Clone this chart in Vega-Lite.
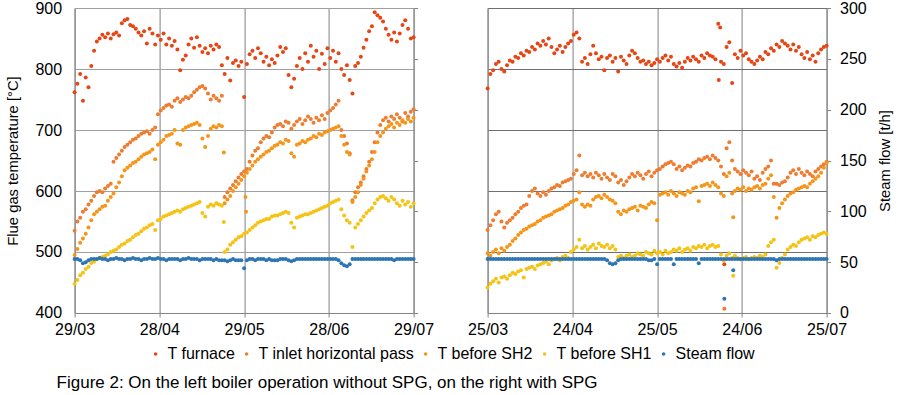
{
"$schema":"https://vega.github.io/schema/vega-lite/v6.json",
"autosize":{"type":"pad"},
"padding":{"left":5.6,"top":0,"right":4,"bottom":4},
"background":"white",
"bounds":"flush",
"spacing":74,
"config":{
"view":{"stroke":null},
"font":"Liberation Sans",
"axis":{"labelFont":"Liberation Sans","labelFontSize":16,"labelColor":"#000000","titleFont":"Liberation Sans","titleFontWeight":"normal","titleColor":"#000000","domainColor":"#858585","tickColor":"#858585","gridColor":"#8c8c8c","gridWidth":1,"domainWidth":1,"tickWidth":1},
"legend":{"orient":"none","legendX":73,"legendY":338,"direction":"horizontal","labelFont":"Liberation Sans","labelFontSize":16,"labelColor":"#000000","symbolType":"circle","symbolSize":13,"labelOffset":4,"columnPadding":3,"padding":0,"symbolStrokeWidth":0}
},
"title":{"text":"Figure 2: On the left boiler operation without SPG, on the right with SPG","orient":"bottom","anchor":"start","frame":"bounds","offset":13,"dx":51,"font":"Liberation Sans","fontSize":17,"fontWeight":"normal","color":"#000000"},
"datasets":{
"L":[
{"t":0,"a":762,"b":535,"c":495,"d":448,"e":53},
{"t":1,"a":776,"b":550,"c":505,"d":454,"e":53},
{"t":2,"a":792,"b":556,"c":515,"d":462,"e":52},
{"t":3,"a":748,"b":566,"c":522,"d":466,"e":49},
{"t":4,"a":786,"b":570,"c":530,"d":472,"e":50},
{"t":5,"a":770,"b":578,"c":540,"d":476,"e":52},
{"t":6,"a":805,"b":584,"c":552,"d":482,"e":53},
{"t":7,"a":830,"b":592,"c":562,"d":484,"e":53},
{"t":8,"a":845,"b":598,"c":566,"d":488,"e":53},
{"t":9,"a":850,"b":600,"c":570,"d":490,"e":54},
{"t":10,"a":856,"b":598,"c":574,"d":492,"e":53},
{"t":11,"a":852,"b":604,"c":576,"d":494,"e":53},
{"t":12,"a":858,"b":608,"c":584,"d":496,"e":52},
{"t":13,"a":850,"b":612,"c":590,"d":500,"e":53},
{"t":14,"a":857,"b":648,"c":596,"d":502,"e":53},
{"t":15,"a":860,"b":654,"c":606,"d":504,"e":54},
{"t":16,"a":855,"b":660,"c":614,"d":508,"e":53},
{"t":17,"a":875,"b":666,"c":624,"d":512,"e":53},
{"t":18,"a":880,"b":672,"c":634,"d":514,"e":52},
{"t":19,"a":882,"b":676,"c":638,"d":518,"e":53},
{"t":20,"a":872,"b":680,"c":642,"d":520,"e":53},
{"t":21,"a":870,"b":684,"c":646,"d":524,"e":54},
{"t":22,"a":866,"b":686,"c":648,"d":528,"e":53},
{"t":23,"a":860,"b":690,"c":652,"d":530,"e":53},
{"t":24,"a":855,"b":694,"c":656,"d":534,"e":52},
{"t":25,"a":862,"b":696,"c":660,"d":538,"e":53},
{"t":26,"a":842,"b":698,"c":662,"d":540,"e":53},
{"t":27,"a":866,"b":694,"c":664,"d":544,"e":54},
{"t":28,"a":858,"b":700,"c":668,"d":546,"e":53},
{"t":29,"a":840,"b":704,"c":652,"d":536,"e":53},
{"t":30,"a":855,"b":726,"c":676,"d":552,"e":54},
{"t":31,"a":848,"b":732,"c":680,"d":554,"e":53},
{"t":32,"a":858,"b":736,"c":684,"d":558,"e":53},
{"t":33,"a":840,"b":740,"c":690,"d":560,"e":52},
{"t":34,"a":850,"b":742,"c":692,"d":562,"e":53},
{"t":35,"a":838,"b":738,"c":694,"d":564,"e":53},
{"t":36,"a":846,"b":748,"c":700,"d":566,"e":53},
{"t":37,"a":832,"b":752,"c":678,"d":568,"e":53},
{"t":38,"a":798,"b":746,"c":676,"d":566,"e":52},
{"t":39,"a":815,"b":750,"c":700,"d":570,"e":53},
{"t":40,"a":822,"b":754,"c":704,"d":572,"e":53},
{"t":41,"a":840,"b":752,"c":706,"d":574,"e":54},
{"t":42,"a":850,"b":756,"c":708,"d":576,"e":53},
{"t":43,"a":835,"b":762,"c":710,"d":578,"e":53},
{"t":44,"a":852,"b":766,"c":712,"d":580,"e":53},
{"t":45,"a":838,"b":770,"c":708,"d":582,"e":52},
{"t":46,"a":828,"b":772,"c":686,"d":564,"e":53},
{"t":47,"a":834,"b":768,"c":672,"d":558,"e":53},
{"t":48,"a":826,"b":760,"c":690,"d":574,"e":53},
{"t":49,"a":838,"b":750,"c":702,"d":578,"e":53},
{"t":50,"a":832,"b":756,"c":706,"d":576,"e":52},
{"t":51,"a":840,"b":752,"c":704,"d":580,"e":53},
{"t":52,"a":836,"b":748,"c":708,"d":578,"e":52},
{"t":53,"a":806,"b":756,"c":706,"d":576,"e":52},
{"t":53.7,"c":663,"d":549},
{"t":54,"a":792,"b":590,"c":580,"d":500,"e":52},
{"t":55,"a":818,"b":598,"c":586,"d":504,"e":51},
{"t":56,"a":781,"b":604,"c":592,"d":512,"e":52},
{"t":57,"a":810,"b":610,"c":600,"d":516,"e":53},
{"t":58,"a":814,"b":616,"c":606,"d":520,"e":52},
{"t":59,"a":805,"b":622,"c":612,"d":524,"e":52},
{"t":60,"a":812,"b":628,"c":618,"d":526,"e":52},
{"t":61,"a":754,"b":632,"c":624,"d":530,"e":44},
{"t":61.5,"c":590},
{"t":61.7,"c":566},
{"t":62,"a":808,"b":636,"c":630,"d":532,"e":52},
{"t":63,"a":824,"b":648,"c":636,"d":536,"e":53},
{"t":64,"a":830,"b":658,"c":642,"d":540,"e":53},
{"t":65,"a":818,"b":666,"c":648,"d":544,"e":52},
{"t":66,"a":834,"b":670,"c":652,"d":548,"e":53},
{"t":67,"a":826,"b":680,"c":656,"d":550,"e":53},
{"t":68,"a":812,"b":686,"c":660,"d":552,"e":53},
{"t":69,"a":820,"b":690,"c":664,"d":554,"e":52},
{"t":70,"a":806,"b":688,"c":666,"d":554,"e":53},
{"t":71,"a":816,"b":696,"c":670,"d":558,"e":52},
{"t":72,"a":810,"b":704,"c":674,"d":560,"e":52},
{"t":73,"a":822,"b":708,"c":676,"d":560,"e":52},
{"t":74,"a":836,"b":710,"c":680,"d":562,"e":53},
{"t":75,"a":828,"b":706,"c":678,"d":564,"e":53},
{"t":76,"a":834,"b":714,"c":684,"d":566,"e":53},
{"t":77,"a":790,"b":712,"c":682,"d":564,"e":52},
{"t":78,"a":770,"b":702,"c":662,"d":548,"e":51},
{"t":79,"a":784,"b":708,"c":656,"d":540,"e":52},
{"t":80,"a":805,"b":714,"c":676,"d":556,"e":53},
{"t":81,"a":818,"b":718,"c":678,"d":558,"e":53},
{"t":82,"a":800,"b":710,"c":682,"d":560,"e":53},
{"t":83,"a":826,"b":716,"c":680,"d":562,"e":53},
{"t":84,"a":812,"b":722,"c":684,"d":562,"e":53},
{"t":85,"a":838,"b":718,"c":686,"d":564,"e":53},
{"t":86,"a":820,"b":712,"c":690,"d":566,"e":53},
{"t":87,"a":830,"b":720,"c":688,"d":568,"e":53},
{"t":88,"a":800,"b":716,"c":694,"d":570,"e":53},
{"t":89,"a":825,"b":724,"c":692,"d":572,"e":53},
{"t":90,"a":808,"b":718,"c":696,"d":574,"e":53},
{"t":91,"a":834,"b":728,"c":698,"d":576,"e":53},
{"t":92,"a":818,"b":732,"c":700,"d":580,"e":53},
{"t":93,"a":830,"b":736,"c":702,"d":582,"e":53},
{"t":94,"a":812,"b":742,"c":704,"d":584,"e":53},
{"t":95,"a":826,"b":748,"c":706,"d":586,"e":52},
{"t":96,"a":800,"b":700,"c":690,"d":570,"e":49},
{"t":97,"a":790,"b":690,"c":676,"d":560,"e":47},
{"t":98,"a":806,"b":678,"c":664,"d":552,"e":46},
{"t":99,"a":782,"b":662,"c":660,"d":548,"e":48},
{"t":100,"a":760,"b":585,"c":582,"d":508,"e":53},
{"t":101,"a":805,"b":598,"c":590,"d":540,"e":53},
{"t":102,"a":810,"b":606,"c":598,"d":546,"e":53},
{"t":103,"a":820,"b":614,"c":610,"d":552,"e":53},
{"t":104,"a":835,"b":624,"c":620,"d":558,"e":53},
{"t":105,"a":848,"b":636,"c":632,"d":564,"e":53},
{"t":106,"a":862,"b":648,"c":642,"d":568,"e":53},
{"t":107,"a":870,"b":664,"c":652,"d":572,"e":53},
{"t":108,"a":893,"b":680,"c":664,"d":580,"e":53},
{"t":109,"a":888,"b":696,"c":680,"d":586,"e":53},
{"t":110,"a":884,"b":708,"c":690,"d":590,"e":53},
{"t":111,"a":878,"b":716,"c":696,"d":592,"e":53},
{"t":112,"a":866,"b":720,"c":702,"d":588,"e":53},
{"t":113,"a":856,"b":714,"c":706,"d":584,"e":53},
{"t":114,"a":848,"b":722,"c":710,"d":590,"e":53},
{"t":115,"a":860,"b":718,"c":704,"d":586,"e":52},
{"t":116,"a":845,"b":726,"c":712,"d":580,"e":53},
{"t":117,"a":858,"b":720,"c":708,"d":576,"e":53},
{"t":118,"a":872,"b":714,"c":716,"d":584,"e":53},
{"t":119,"a":880,"b":728,"c":712,"d":578,"e":53},
{"t":120,"a":866,"b":722,"c":718,"d":582,"e":53},
{"t":121,"a":850,"b":730,"c":714,"d":574,"e":53},
{"t":122,"a":852,"b":734,"c":720,"d":580,"e":53}
],
"R":[
{"t":0,"a":768,"b":536,"c":498,"d":442,"e":53},
{"t":1,"a":792,"b":544,"c":494,"d":448,"e":53},
{"t":2,"a":798,"b":552,"c":500,"d":452,"e":53},
{"t":3,"a":808,"b":562,"c":504,"d":456,"e":53},
{"t":4,"a":812,"b":566,"c":498,"d":450,"e":53},
{"t":5,"a":800,"b":550,"c":506,"d":458,"e":53},
{"t":6,"a":796,"b":540,"c":502,"d":460,"e":53},
{"t":7,"a":806,"b":548,"c":508,"d":456,"e":53},
{"t":8,"a":814,"b":552,"c":512,"d":462,"e":53},
{"t":9,"a":812,"b":556,"c":518,"d":466,"e":53},
{"t":10,"a":820,"b":562,"c":522,"d":464,"e":53},
{"t":11,"a":818,"b":566,"c":528,"d":468,"e":53},
{"t":12,"a":826,"b":572,"c":532,"d":470,"e":53},
{"t":13,"a":822,"b":576,"c":536,"d":458,"e":53},
{"t":14,"a":830,"b":578,"c":538,"d":472,"e":53},
{"t":15,"a":828,"b":592,"c":542,"d":474,"e":53},
{"t":16,"a":836,"b":600,"c":544,"d":476,"e":53},
{"t":17,"a":832,"b":604,"c":546,"d":472,"e":53},
{"t":18,"a":842,"b":596,"c":550,"d":478,"e":53},
{"t":19,"a":838,"b":592,"c":552,"d":480,"e":53},
{"t":20,"a":846,"b":598,"c":556,"d":482,"e":53},
{"t":21,"a":840,"b":594,"c":558,"d":484,"e":53},
{"t":22,"a":850,"b":600,"c":560,"d":480,"e":53},
{"t":23,"a":836,"b":604,"c":562,"d":486,"e":53},
{"t":24,"a":826,"b":606,"c":566,"d":488,"e":53},
{"t":25,"a":832,"b":610,"c":568,"d":490,"e":53},
{"t":26,"a":838,"b":608,"c":570,"d":486,"e":53},
{"t":27,"a":828,"b":614,"c":572,"d":492,"e":53},
{"t":28,"a":836,"b":616,"c":576,"d":494,"e":53},
{"t":29,"a":842,"b":618,"c":578,"d":490,"e":53},
{"t":30,"a":846,"b":620,"c":582,"d":500,"e":53},
{"t":31,"a":856,"b":628,"c":584,"d":504,"e":53},
{"t":32,"a":860,"b":634,"c":586,"d":508,"e":53},
{"t":33,"a":850,"b":658,"c":598,"d":520,"e":53},
{"t":34,"a":812,"b":626,"c":578,"d":506,"e":53},
{"t":35,"a":818,"b":630,"c":574,"d":510,"e":53},
{"t":36,"a":808,"b":624,"c":578,"d":504,"e":53},
{"t":37,"a":824,"b":628,"c":576,"d":508,"e":53},
{"t":38,"a":838,"b":622,"c":586,"d":512,"e":53},
{"t":39,"a":826,"b":630,"c":590,"d":506,"e":53},
{"t":40,"a":816,"b":626,"c":592,"d":514,"e":53},
{"t":41,"a":820,"b":620,"c":588,"d":510,"e":53},
{"t":42,"a":798,"b":628,"c":594,"d":508,"e":53},
{"t":43,"a":818,"b":622,"c":590,"d":512,"e":52},
{"t":44,"a":822,"b":618,"c":586,"d":506,"e":49},
{"t":45,"a":812,"b":628,"c":584,"d":510,"e":48},
{"t":46,"a":818,"b":624,"c":580,"d":504,"e":49},
{"t":47,"a":796,"b":614,"c":566,"d":492,"e":52},
{"t":48,"a":820,"b":618,"c":562,"d":494,"e":53},
{"t":49,"a":814,"b":610,"c":568,"d":490,"e":53},
{"t":50,"a":808,"b":616,"c":566,"d":494,"e":53},
{"t":51,"a":822,"b":622,"c":570,"d":496,"e":53},
{"t":52,"a":830,"b":628,"c":572,"d":492,"e":53},
{"t":53,"a":826,"b":624,"c":574,"d":494,"e":53},
{"t":54,"a":818,"b":630,"c":568,"d":498,"e":53},
{"t":55,"a":812,"b":626,"c":576,"d":496,"e":53},
{"t":56,"a":814,"b":620,"c":574,"d":494,"e":53},
{"t":57,"a":808,"b":628,"c":572,"d":500,"e":53},
{"t":58,"a":812,"b":632,"c":578,"d":498,"e":52},
{"t":59,"a":806,"b":624,"c":582,"d":496,"e":52},
{"t":60,"a":810,"b":630,"c":580,"d":502,"e":53},
{"t":61,"a":816,"b":634,"c":552,"d":498,"e":48},
{"t":62,"a":812,"b":636,"c":594,"d":500,"e":53},
{"t":63,"a":818,"b":640,"c":596,"d":496,"e":53},
{"t":64,"a":822,"b":644,"c":598,"d":502,"e":53},
{"t":65,"a":814,"b":646,"c":594,"d":498,"e":53},
{"t":66,"a":820,"b":648,"c":600,"d":500,"e":53},
{"t":67,"a":808,"b":644,"c":596,"d":504,"e":48},
{"t":68,"a":804,"b":636,"c":592,"d":502,"e":53},
{"t":69,"a":810,"b":640,"c":598,"d":506,"e":53},
{"t":70,"a":802,"b":634,"c":596,"d":500,"e":53},
{"t":71,"a":812,"b":638,"c":594,"d":504,"e":53},
{"t":72,"a":818,"b":642,"c":600,"d":506,"e":53},
{"t":73,"a":814,"b":640,"c":598,"d":502,"e":53},
{"t":74,"a":820,"b":646,"c":604,"d":508,"e":53},
{"t":75,"a":816,"b":648,"c":606,"d":506,"e":53},
{"t":76,"a":812,"b":652,"c":583,"d":510,"e":49},
{"t":77,"a":822,"b":650,"c":608,"d":508,"e":53},
{"t":78,"a":818,"b":654,"c":610,"d":512,"e":53},
{"t":79,"a":826,"b":656,"c":612,"d":506,"e":53},
{"t":80,"a":822,"b":652,"c":608,"d":510,"e":53},
{"t":81,"a":820,"b":658,"c":614,"d":512,"e":53},
{"t":82,"a":816,"b":654,"c":610,"d":508,"e":53},
{"t":83,"a":874,"b":650,"c":606,"d":510,"e":53},
{"t":83.2,"a":782},
{"t":83.7,"a":868},
{"t":84,"a":812,"b":640,"c":596,"d":496,"e":53},
{"t":85,"a":808,"b":628,"c":592,"d":486,"e":53},
{"t":85.2,"a":480,"b":407,"e":14},
{"t":86,"a":836,"b":670,"c":624,"d":494,"e":53},
{"t":87,"a":844,"b":680,"c":630,"d":498,"e":53},
{"t":88,"a":777,"b":650,"c":596,"d":490,"e":53},
{"t":88.4,"c":557,"d":461,"e":42},
{"t":89,"a":824,"b":636,"c":600,"d":494,"e":53},
{"t":90,"a":818,"b":632,"c":604,"d":490,"e":53},
{"t":91,"a":830,"b":628,"c":602,"d":488,"e":53},
{"t":92,"a":822,"b":634,"c":606,"d":490,"e":53},
{"t":93,"a":826,"b":630,"c":600,"d":492,"e":53},
{"t":94,"a":816,"b":626,"c":604,"d":488,"e":53},
{"t":95,"a":812,"b":632,"c":602,"d":490,"e":53},
{"t":96,"a":808,"b":620,"c":606,"d":492,"e":53},
{"t":97,"a":814,"b":624,"c":608,"d":490,"e":53},
{"t":98,"a":820,"b":618,"c":604,"d":494,"e":53},
{"t":99,"a":816,"b":630,"c":610,"d":492,"e":53},
{"t":100,"a":828,"b":636,"c":612,"d":496,"e":53},
{"t":101,"a":824,"b":640,"c":620,"d":510,"e":53},
{"t":102,"a":834,"b":650,"c":626,"d":516,"e":53},
{"t":103,"a":830,"b":612,"c":590,"d":520,"e":53},
{"t":104,"a":840,"b":612,"c":556,"d":474,"e":52},
{"t":105,"a":836,"b":610,"c":572,"d":482,"e":53},
{"t":106,"a":846,"b":614,"c":580,"d":490,"e":53},
{"t":107,"a":842,"b":616,"c":586,"d":496,"e":53},
{"t":108,"a":838,"b":622,"c":592,"d":504,"e":53},
{"t":109,"a":832,"b":630,"c":596,"d":508,"e":53},
{"t":110,"a":840,"b":634,"c":598,"d":512,"e":53},
{"t":111,"a":830,"b":628,"c":602,"d":510,"e":53},
{"t":112,"a":836,"b":636,"c":604,"d":516,"e":53},
{"t":113,"a":824,"b":630,"c":606,"d":520,"e":53},
{"t":114,"a":818,"b":626,"c":608,"d":522,"e":53},
{"t":115,"a":828,"b":632,"c":606,"d":524,"e":53},
{"t":116,"a":816,"b":628,"c":612,"d":520,"e":53},
{"t":117,"a":822,"b":624,"c":616,"d":526,"e":53},
{"t":118,"a":812,"b":632,"c":620,"d":524,"e":53},
{"t":119,"a":826,"b":636,"c":624,"d":528,"e":53},
{"t":120,"a":832,"b":640,"c":630,"d":530,"e":53},
{"t":121,"a":836,"b":644,"c":638,"d":532,"e":53},
{"t":122,"a":838,"b":648,"c":646,"d":530,"e":53}
]
},
"resolve":{"scale":{"color":"shared"},"legend":{"color":"shared"}},
"hconcat":[
{
"width":339,"height":305,
"data":{"name":"L"},
"encoding":{"x":{"field":"t","type":"quantitative","scale":{"domain":[0,122],"nice":false,"zero":false},"axis":{"values":[0,30.5,61,91.5,122],"labelExpr":"datum.value==0?'29/03':datum.value==30.5?'28/04':datum.value==61?'29/05':datum.value==91.5?'28/06':'29/07'","title":null,"grid":true,"gridColor":"#7f7f7f","tickSize":4,"labelPadding":5,"labelFlush":false,"labelOverlap":false}}},
"layer":[
{"transform":[{"fold":["a","b","c","d"],"as":["k","v"]}],
"mark":{"type":"circle","size":16,"opacity":1},
"encoding":{
"y":{"field":"v","type":"quantitative","scale":{"domain":[400,900],"nice":false,"zero":false},"axis":{"orient":"left","values":[400,500,600,700,800,900],"title":"Flue gas temperature [°C]","titleFontSize":14.8,"titleAngle":270,"titleX":-61,"titleY":152.5,"titleBaseline":"middle","titleAlign":"center","ticks":false,"labelPadding":13,"grid":true,"gridColor":"#a0a0a0"}},
"color":{"field":"k","type":"nominal","scale":{"domain":["a","b","c","d","e"],"range":["#E44614","#ED7D31","#F5961A","#F4C314","#2E75B6"]},"legend":{"title":null,"labelExpr":"datum.label=='a'?'T furnace':datum.label=='b'?'T inlet horizontal pass':datum.label=='c'?'T before SH2':datum.label=='d'?'T before SH1':'Steam flow'"}},
"order":{"field":"k","type":"ordinal"}}},
{"transform":[{"fold":["e"],"as":["k","v"]}],
"mark":{"type":"circle","size":16,"opacity":1},
"encoding":{
"y":{"field":"v","type":"quantitative","scale":{"domain":[0,300],"nice":false,"zero":true},"axis":{"orient":"right","values":[0,50,100,150,200,250,300],"labels":false,"title":null,"grid":false,"tickSize":4}},
"color":{"field":"k","type":"nominal","scale":{"domain":["a","b","c","d","e"],"range":["#E44614","#ED7D31","#F5961A","#F4C314","#2E75B6"]},"legend":{"title":null,"labelExpr":"datum.label=='a'?'T furnace':datum.label=='b'?'T inlet horizontal pass':datum.label=='c'?'T before SH2':datum.label=='d'?'T before SH1':'Steam flow'"}}}}
],
"resolve":{"scale":{"y":"independent"}}
},
{
"width":339,"height":305,
"data":{"name":"R"},
"encoding":{"x":{"field":"t","type":"quantitative","scale":{"domain":[0,122],"nice":false,"zero":false},"axis":{"values":[0,30.5,61,91.5,122],"labelExpr":"datum.value==0?'25/03':datum.value==30.5?'24/04':datum.value==61?'25/05':datum.value==91.5?'24/06':'25/07'","title":null,"grid":true,"gridColor":"#7f7f7f","tickSize":4,"labelPadding":5,"labelFlush":false,"labelOverlap":false}}},
"layer":[
{"transform":[{"fold":["a","b","c","d"],"as":["k","v"]}],
"mark":{"type":"circle","size":16,"opacity":1},
"encoding":{
"y":{"field":"v","type":"quantitative","scale":{"domain":[400,900],"nice":false,"zero":false},"axis":{"orient":"left","values":[400,500,600,700,800,900],"labels":false,"ticks":false,"title":null,"grid":true,"gridColor":"#6e6e6e"}},
"color":{"field":"k","type":"nominal","scale":{"domain":["a","b","c","d","e"],"range":["#E44614","#ED7D31","#F5961A","#F4C314","#2E75B6"]},"legend":{"title":null,"labelExpr":"datum.label=='a'?'T furnace':datum.label=='b'?'T inlet horizontal pass':datum.label=='c'?'T before SH2':datum.label=='d'?'T before SH1':'Steam flow'"}},
"order":{"field":"k","type":"ordinal"}}},
{"transform":[{"fold":["e"],"as":["k","v"]}],
"mark":{"type":"circle","size":16,"opacity":1},
"encoding":{
"y":{"field":"v","type":"quantitative","scale":{"domain":[0,300],"nice":false,"zero":true},"axis":{"orient":"right","values":[0,50,100,150,200,250,300],"title":"Steam flow [t/h]","titleFontSize":14.8,"titleAngle":270,"titleX":59,"titleY":152.5,"titleBaseline":"middle","titleAlign":"center","tickSize":4,"labelPadding":9,"grid":false}},
"color":{"field":"k","type":"nominal","scale":{"domain":["a","b","c","d","e"],"range":["#E44614","#ED7D31","#F5961A","#F4C314","#2E75B6"]},"legend":{"title":null,"labelExpr":"datum.label=='a'?'T furnace':datum.label=='b'?'T inlet horizontal pass':datum.label=='c'?'T before SH2':datum.label=='d'?'T before SH1':'Steam flow'"}}}}
],
"resolve":{"scale":{"y":"independent"}}
}
]
}
